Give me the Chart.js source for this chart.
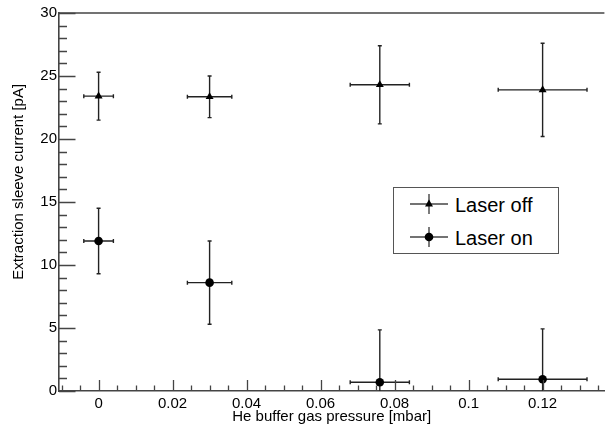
<!DOCTYPE html>
<html lang="en">
<head>
  <meta charset="UTF-8">
  <title>Extraction sleeve current vs He pressure</title>
  <script src="https://cdn.jsdelivr.net/npm/chart.js"></script>
  <style>
    body {
      margin: 0;
      background: #fff;
      font-family: "Liberation Sans", Arial, sans-serif;
    }
    .wrap {
      position: relative;
      width: 609px;
      height: 434px;
    }
    .legend {
      position: absolute;
      left: 393px;
      top: 187px;
      width: 164px;
      height: 65px;
      border: 1px solid #555;
      background: #fff;
    }
    .legend svg {
      position: absolute;
      left: 15px;
    }
    .legend span {
      position: absolute;
      left: 61px;
      font-size: 20px;
      line-height: 20px;
      color: #000;
    }
  </style>
</head>
<body>
  <div class="wrap">
    <canvas id="chart1" width="609" height="434"></canvas>
    <div class="legend">
      <svg width="40" height="22" style="top:6px">
        <line x1="1" y1="10" x2="39" y2="10" stroke="#444" stroke-width="1.4"/>
        <line x1="20" y1="0" x2="20" y2="20" stroke="#444" stroke-width="1.4"/>
        <polygon points="20,5.5 24,12.5 16,12.5" fill="#000"/>
      </svg>
      <span style="top:7px">Laser off</span>
      <svg width="40" height="22" style="top:39px">
        <line x1="1" y1="10" x2="39" y2="10" stroke="#444" stroke-width="1.4"/>
        <line x1="20" y1="0" x2="20" y2="20" stroke="#444" stroke-width="1.4"/>
        <circle cx="20" cy="10" r="4.3" fill="#000"/>
      </svg>
      <span style="top:40px">Laser on</span>
    </div>
  </div>

  <script>
    // He buffer gas pressure [mbar]
    const pressure = [0, 0.03, 0.076, 0.12];
    const pressureErr = [0.004, 0.006, 0.008, 0.012];

    // Extraction sleeve current [pA]
    const laserOff = [23.4, 23.35, 24.3, 23.9];
    const laserOffErr = [1.9, 1.65, 3.1, 3.7];
    const laserOn = [11.9, 8.6, 0.7, 0.93];
    const laserOnErr = [2.6, 3.3, 4.15, 4.0];

    const xTickLabels = ['0', '0.02', '0.04', '0.06', '0.08', '0.1', '0.12'];
    const yTickLabels = ['0', '5', '10', '15', '20', '25', '30'];
    const yTitle = 'Extraction sleeve current [pA]';

    const AXIS_COLOR = '#444';
    const FONT = '"Liberation Sans", Arial, sans-serif';

    function isMajor(v, step) {
      const r = v / step;
      return Math.abs(r - Math.round(r)) < 1e-6;
    }

    // error bars (ROOT style, with small end marks)
    const errorBars = {
      id: 'errorBars',
      beforeDatasetsDraw(chart) {
        const ctx = chart.ctx;
        const xs = chart.scales.x, ys = chart.scales.y;
        const area = chart.chartArea;
        ctx.save();
        ctx.beginPath();
        ctx.rect(area.left, area.top, area.right - area.left, area.bottom - area.top);
        ctx.clip();
        ctx.strokeStyle = '#222';
        ctx.lineWidth = 1.4;
        chart.data.datasets.forEach(ds => {
          ds.data.forEach((p, i) => {
            const px = xs.getPixelForValue(p.x);
            const py = ys.getPixelForValue(p.y);
            const x1 = xs.getPixelForValue(p.x - ds.xErr[i]);
            const x2 = xs.getPixelForValue(p.x + ds.xErr[i]);
            const y1 = ys.getPixelForValue(p.y - ds.yErr[i]);
            const y2 = ys.getPixelForValue(p.y + ds.yErr[i]);
            ctx.beginPath();
            ctx.moveTo(x1, py); ctx.lineTo(x2, py);
            ctx.moveTo(px, y1); ctx.lineTo(px, y2);
            // end marks
            ctx.moveTo(x1, py - 2); ctx.lineTo(x1, py + 2);
            ctx.moveTo(x2, py - 2); ctx.lineTo(x2, py + 2);
            ctx.moveTo(px - 2, y1); ctx.lineTo(px + 2, y1);
            ctx.moveTo(px - 2, y2); ctx.lineTo(px + 2, y2);
            ctx.stroke();
          });
        });
        ctx.restore();
      }
    };

    // inward ticks, top frame line, y title (sits a bit above centre like ROOT)
    const frameTicks = {
      id: 'frameTicks',
      afterDraw(chart) {
        const ctx = chart.ctx;
        const xs = chart.scales.x, ys = chart.scales.y;
        const area = chart.chartArea;
        ctx.save();
        ctx.strokeStyle = AXIS_COLOR;
        ctx.lineWidth = 1.3;
        ctx.beginPath();
        xs.ticks.forEach(t => {
          const px = Math.round(xs.getPixelForValue(t.value)) + 0.5;
          const len = isMajor(t.value, 0.02) ? 11 : 5.5;
          ctx.moveTo(px, area.bottom);
          ctx.lineTo(px, area.bottom - len);
        });
        ys.ticks.forEach(t => {
          const py = Math.round(ys.getPixelForValue(t.value)) + 0.5;
          const len = isMajor(t.value, 5) ? 16.5 : 8;
          ctx.moveTo(area.left, py);
          ctx.lineTo(area.left + len, py);
        });
        ctx.stroke();
        ctx.lineWidth = 1.6;
        ctx.beginPath();
        ctx.moveTo(area.left, area.top);
        ctx.lineTo(area.right, area.top);
        ctx.stroke();

        ctx.translate(18.5, ys.getPixelForValue(16.6));
        ctx.rotate(-Math.PI / 2);
        ctx.fillStyle = '#000';
        ctx.font = '15px ' + FONT;
        ctx.textAlign = 'center';
        ctx.textBaseline = 'middle';
        ctx.fillText(yTitle, 0, 0);
        ctx.restore();
      }
    };

    const ctx1 = document.getElementById('chart1').getContext('2d');
    new Chart(ctx1, {
      type: 'scatter',
      data: {
        datasets: [{
          label: 'Laser off',
          data: pressure.map((x, i) => ({ x: x, y: laserOff[i] })),
          xErr: pressureErr,
          yErr: laserOffErr,
          pointStyle: 'triangle',
          pointRadius: 4.6,
          backgroundColor: '#000',
          borderColor: '#000',
          borderWidth: 0
        },
        {
          label: 'Laser on',
          data: pressure.map((x, i) => ({ x: x, y: laserOn[i] })),
          xErr: pressureErr,
          yErr: laserOnErr,
          pointStyle: 'circle',
          pointRadius: 4.3,
          backgroundColor: '#000',
          borderColor: '#000',
          borderWidth: 0
        }]
      },
      options: {
        responsive: false,
        animation: false,
        events: [],
        layout: {
          padding: { left: 0, right: 0, top: 13, bottom: 0 }
        },
        plugins: {
          legend: { display: false },
          tooltip: { enabled: false }
        },
        scales: {
          x: {
            type: 'linear',
            min: -0.0107,
            max: 0.1367,
            afterBuildTicks(scale) {
              const t = [];
              for (let i = -2; i <= 27; i++) t.push({ value: i * 0.005 });
              scale.ticks = t;
            },
            afterFit(scale) {
              scale.height = 43;
            },
            grid: { display: false, drawTicks: false },
            border: { display: true, color: AXIS_COLOR, width: 1.6 },
            ticks: {
              autoSkip: false,
              maxRotation: 0,
              padding: 4,
              color: '#000',
              font: { family: FONT, size: 15 },
              callback: function(value) {
                if (!isMajor(value, 0.02)) return '';
                const k = Math.round(value / 0.02);
                return xTickLabels[k] !== undefined ? xTickLabels[k] : '';
              }
            },
            title: {
              display: true,
              text: 'He buffer gas pressure [mbar]',
              color: '#000',
              padding: { top: 0, bottom: 8 },
              font: { family: FONT, size: 15 }
            }
          },
          y: {
            type: 'linear',
            min: 0,
            max: 30,
            afterBuildTicks(scale) {
              const t = [];
              for (let i = 0; i <= 30; i++) t.push({ value: i });
              scale.ticks = t;
            },
            afterFit(scale) {
              scale.width = 59;
            },
            grid: { display: false, drawTicks: false },
            border: { display: true, color: AXIS_COLOR, width: 1.6 },
            ticks: {
              autoSkip: false,
              padding: 2,
              color: '#000',
              font: { family: FONT, size: 15 },
              callback: function(value) {
                if (!isMajor(value, 5)) return '';
                return yTickLabels[Math.round(value / 5)];
              }
            },
            title: { display: false }
          }
        }
      },
      plugins: [errorBars, frameTicks]
    });
  </script>
</body>
</html>
